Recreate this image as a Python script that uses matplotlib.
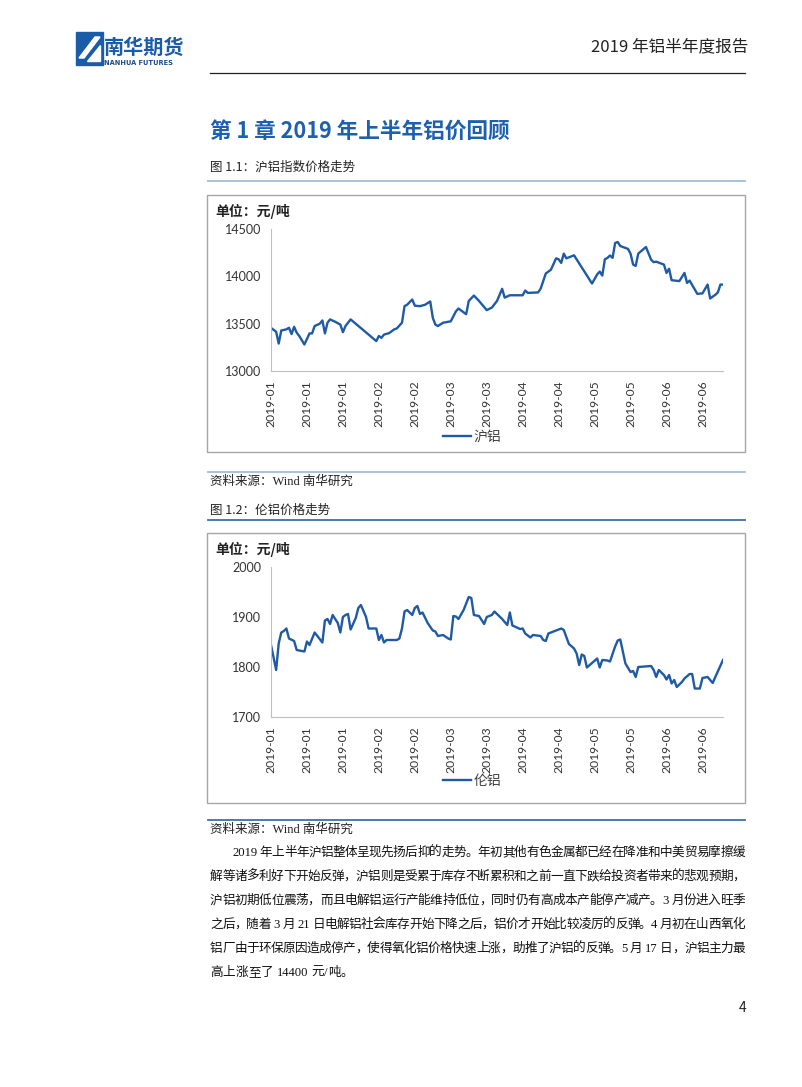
import re
import matplotlib
matplotlib.use('Agg')
import matplotlib.pyplot as plt
import matplotlib.dates as mdates
from matplotlib.patches import Rectangle, Polygon
from matplotlib.lines import Line2D
import pandas as pd

plt.rcParams['font.family'] = ['Noto Sans CJK SC', 'DejaVu Sans']

# 沪铝指数 (元/吨)
shfe_dates = ['01-01', '01-03', '01-04', '01-05', '01-07', '01-08', '01-09', '01-10', '01-11', '01-12',
              '01-14', '01-16', '01-17', '01-18', '01-20', '01-21', '01-22', '01-23', '01-24', '01-26',
              '01-28', '01-29', '01-30', '02-01', '02-11', '02-12', '02-13', '02-14', '02-16', '02-18',
              '02-19', '02-21', '02-22', '02-23', '02-25', '02-26', '02-28', '03-02', '03-04', '03-05',
              '03-06', '03-07', '03-09', '03-12', '03-14', '03-15', '03-16', '03-18', '03-19', '03-21',
              '03-23', '03-26', '03-28', '03-30', '04-01', '04-02', '04-04', '04-09', '04-10', '04-11',
              '04-15', '04-16', '04-18', '04-20', '04-22', '04-23', '04-24', '04-25', '04-26', '04-29',
              '05-06', '05-08', '05-09', '05-10', '05-11', '05-12', '05-13', '05-14', '05-15', '05-16',
              '05-17', '05-20', '05-21', '05-22', '05-23', '05-24', '05-27', '05-29', '05-30', '05-31',
              '06-03', '06-04', '06-05', '06-06', '06-09', '06-11', '06-12', '06-13', '06-16', '06-18',
              '06-20', '06-21', '06-23', '06-24', '06-25', '06-26']
shfe_values = [13455, 13415, 13290, 13428, 13440, 13457, 13390, 13467, 13405, 13370,
               13280, 13397, 13397, 13475, 13500, 13534, 13397, 13510, 13545, 13520,
               13490, 13410, 13475, 13545, 13316, 13370, 13350, 13385, 13400, 13440,
               13450, 13510, 13685, 13700, 13755, 13690, 13685, 13700, 13735, 13562,
               13490, 13475, 13510, 13525, 13630, 13660, 13640, 13600, 13740, 13797,
               13740, 13643, 13670, 13740, 13868, 13775, 13800, 13800, 13850, 13825,
               13830, 13870, 14030, 14070, 14190, 14180, 14142, 14240, 14190, 14222,
               13924, 14020, 14050, 14008, 14180, 14195, 14220, 14195, 14352, 14363,
               14320, 14290, 14240, 14124, 14110, 14240, 14310, 14176, 14150, 14155,
               14124, 14036, 14080, 13959, 13950, 14036, 13930, 13955, 13815, 13820,
               13913, 13766, 13805, 13830, 13913, 13913]

# 伦铝
lme_dates = ['01-01', '01-03', '01-04', '01-05', '01-06', '01-07', '01-08', '01-10', '01-11', '01-14',
             '01-15', '01-16', '01-18', '01-21', '01-22', '01-23', '01-24', '01-25', '01-27', '01-28',
             '01-29', '01-30', '01-31', '02-01', '02-03', '02-04', '02-05', '02-07', '02-08', '02-11',
             '02-12', '02-13', '02-14', '02-15', '02-19', '02-20', '02-21', '02-22', '02-23', '02-25',
             '02-26', '02-27', '02-28', '03-01', '03-03', '03-05', '03-06', '03-07', '03-09', '03-11',
             '03-12', '03-13', '03-14', '03-15', '03-17', '03-19', '03-20', '03-21', '03-23', '03-25',
             '03-26', '03-28', '03-29', '04-01', '04-03', '04-04', '04-05', '04-08', '04-09', '04-10',
             '04-12', '04-13', '04-16', '04-17', '04-18', '04-19', '04-21', '04-24', '04-25', '04-27',
             '04-29', '04-30', '05-01', '05-02', '05-03', '05-04', '05-06', '05-08', '05-09', '05-10',
             '05-12', '05-13', '05-15', '05-16', '05-17', '05-18', '05-19', '05-21', '05-22', '05-23',
             '05-24', '05-29', '05-30', '05-31', '06-01', '06-03', '06-04', '06-05', '06-06', '06-07',
             '06-08', '06-10', '06-11', '06-13', '06-14', '06-15', '06-17', '06-18', '06-20', '06-22',
             '06-23', '06-26']
lme_values = [1844, 1794, 1847, 1869, 1872, 1877, 1857, 1852, 1834, 1831,
              1851, 1844, 1869, 1849, 1893, 1896, 1886, 1904, 1888, 1869,
              1900, 1904, 1906, 1875, 1898, 1918, 1924, 1900, 1877, 1877,
              1854, 1864, 1849, 1854, 1854, 1857, 1877, 1911, 1914, 1904,
              1918, 1922, 1906, 1909, 1888, 1873, 1871, 1862, 1864, 1857,
              1855, 1902, 1901, 1896, 1914, 1940, 1938, 1904, 1902, 1886,
              1900, 1904, 1911, 1896, 1884, 1909, 1883, 1876, 1877, 1867,
              1859, 1864, 1862, 1854, 1852, 1867, 1871, 1877, 1874, 1846,
              1837, 1827, 1804, 1825, 1822, 1799, 1808, 1817, 1799, 1814,
              1813, 1811, 1841, 1853, 1855, 1831, 1807, 1790, 1792, 1780,
              1800, 1802, 1794, 1780, 1794, 1784, 1775, 1784, 1767, 1774,
              1760, 1770, 1777, 1786, 1786, 1757, 1757, 1778, 1780, 1768,
              1780, 1814]

paragraph = ['2019 年上半年沪铝整体呈现先扬后抑的走势。年初其他有色金属都已经在降准和中美贸易摩擦缓',
             '解等诸多利好下开始反弹，沪铝则是受累于库存不断累积和之前一直下跌给投资者带来的悲观预期，',
             '沪铝初期低位震荡，而且电解铝运行产能维持低位，同时仍有高成本产能停产减产。3 月份进入旺季',
             '之后，随着 3 月 21 日电解铝社会库存开始下降之后，铝价才开始比较凌厉的反弹。4 月初在山西氧化',
             '铝厂由于环保原因造成停产，使得氧化铝价格快速上涨，助推了沪铝的反弹。5 月 17 日，沪铝主力最',
             '高上涨至了 14400 元/吨。']

W, H = 802, 1087
BLUE = '#1f5aa6'
SERIF = ['Liberation Serif', 'Noto Sans CJK SC']


def fx(x):
    return x / W


def fy(y):
    return 1 - y / H


def hline(y, x0, x1, color, lw):
    fig.add_artist(Line2D([fx(x0), fx(x1)], [fy(y), fy(y)], color=color, lw=lw))


fig = plt.figure(figsize=(8.02, 10.87), dpi=100)
renderer = fig.canvas.get_renderer()

# 页眉
fig.add_artist(Rectangle((fx(76), fy(65)), 27 / W, 33 / H, color='#1b5ca8'))
fig.add_artist(Polygon([(fx(79), fy(58)), (fx(95), fy(37)), (fx(100), fy(37)), (fx(84), fy(58))],
                       color='white'))
fig.add_artist(Polygon([(fx(87), fy(61)), (fx(100), fy(61)), (fx(100), fy(45))], color='white'))
fig.text(fx(104), fy(47), '南华期货', fontsize=14.5, fontweight='bold', color='#1b5ca8', va='center')
fig.text(fx(104), fy(63), 'NANHUA FUTURES', fontsize=4.8, fontweight='bold', color='#1b4c8c', va='center',
         family=['DejaVu Sans'])
fig.text(fx(748), fy(47), '2019 年铝半年度报告', fontsize=12, color='#222222', ha='right', va='center')
hline(73, 210, 745, '#222222', 0.9)

# 标题
fig.text(fx(210), fy(131), '第 1 章 2019 年上半年铝价回顾', fontsize=15.6, fontweight='bold',
         color='#1d60ad', va='center')


def draw_chart(top, bottom, ax_top, ax_bot, leg_y, dates, values, lo, hi, step, name):
    fig.add_artist(Rectangle((fx(207), fy(bottom)), 538 / W, (bottom - top) / H,
                             fill=False, edgecolor='#a6a6a6', lw=1))
    fig.text(fx(215), fy(top + 16), '单位：元/吨', fontsize=10, fontweight='bold', color='#222222',
             va='center')
    ax = fig.add_axes([fx(271), fy(ax_bot), (723 - 271) / W, (ax_bot - ax_top) / H])
    x = pd.to_datetime(['2019-' + d for d in dates])
    ax.plot(x, values, color=BLUE, lw=1.7, label=name)
    ax.set_xlim(pd.Timestamp('2019-01-01'), pd.Timestamp('2019-06-26'))
    ax.set_ylim(lo, hi)
    ax.set_yticks(range(lo, hi + 1, step))
    ax.set_xticks(pd.date_range('2019-01-01', periods=13, freq='14D'))
    ax.xaxis.set_major_formatter(mdates.DateFormatter('%Y-%m'))
    for s in ['top', 'right']:
        ax.spines[s].set_visible(False)
    for s in ['left', 'bottom']:
        ax.spines[s].set_color('#bfbfbf')
    ax.tick_params(length=0, labelsize=9, colors='#333333')
    ax.tick_params(axis='y', pad=7)
    ax.tick_params(axis='x', pad=7, labelrotation=90, labelsize=8.7)
    for lab in ax.get_xticklabels() + ax.get_yticklabels():
        lab.set_family(['Lato', 'DejaVu Sans'])
    ax.legend(loc='center', bbox_to_anchor=(fx(472), fy(leg_y)), bbox_transform=fig.transFigure,
              frameon=False, fontsize=10, handlelength=2.0, handletextpad=0.2, labelcolor='#404040')
    return ax


fig.text(fx(210), fy(167), '图 1.1：沪铝指数价格走势', fontsize=9, color='#222222', va='center')
hline(181, 208, 745, '#a3bdd6', 1.3)
draw_chart(195, 452, 229, 371, 437, shfe_dates, shfe_values, 13000, 14500, 500, '沪铝')
hline(472, 208, 745, '#a3bdd6', 1.3)
fig.text(fx(210), fy(482), '资料来源：Wind 南华研究', fontsize=9, color='#222222', va='center', family=SERIF)

fig.text(fx(210), fy(510), '图 1.2：伦铝价格走势', fontsize=9, color='#222222', va='center')
hline(520, 208, 745, '#3d6fa8', 1.3)
draw_chart(533, 803, 567, 717, 781, lme_dates, lme_values, 1700, 2000, 100, '伦铝')
hline(820, 208, 745, '#3d6fa8', 1.3)
fig.text(fx(210), fy(830), '资料来源：Wind 南华研究', fontsize=9, color='#222222', va='center', family=SERIF)


# 正文，两端对齐
def draw_line(line, x0, x1, y, justify):
    tokens = re.findall(r'[A-Za-z0-9./]+|\s+|.', line)
    texts, widths = [], []
    for t in tokens:
        if t.isspace():
            texts.append(None)
            widths.append(3.5)
            continue
        txt = fig.text(0, fy(y), t, fontsize=9.1, color='#111111', va='center', family=SERIF)
        texts.append(txt)
        widths.append(txt.get_window_extent(renderer).width)
    gap = (x1 - x0 - sum(widths)) / (len(tokens) - 1) if justify else 0
    x = x0
    for txt, w in zip(texts, widths):
        if txt is not None:
            txt.set_x(fx(x))
        x += w + gap


for i, line in enumerate(paragraph):
    x0 = 232 if i == 0 else 210
    draw_line(line, x0, 745, 853 + 24 * i, i < len(paragraph) - 1)

fig.text(fx(746), fy(1008), '4', fontsize=10, color='#222222', ha='right', va='center')

fig.savefig('out.png', dpi=100)
